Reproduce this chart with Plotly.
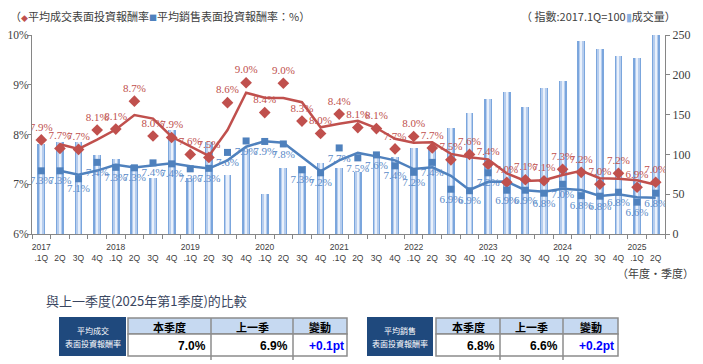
import plotly.graph_objects as go
import pandas as pd

# ---------------- data ----------------
quarters = ["2017.1Q", "2017.2Q", "2017.3Q", "2017.4Q",
            "2018.1Q", "2018.2Q", "2018.3Q", "2018.4Q",
            "2019.1Q", "2019.2Q", "2019.3Q", "2019.4Q",
            "2020.1Q", "2020.2Q", "2020.3Q", "2020.4Q",
            "2021.1Q", "2021.2Q", "2021.3Q", "2021.4Q",
            "2022.1Q", "2022.2Q", "2022.3Q", "2022.4Q",
            "2023.1Q", "2023.2Q", "2023.3Q", "2023.4Q",
            "2024.1Q", "2024.2Q", "2024.3Q", "2024.4Q",
            "2025.1Q", "2025.2Q"]

tick_labels = ["2017<br>.1Q", "\u00a0<br>2Q", "\u00a0<br>3Q", "\u00a0<br>4Q",
               "2018<br>.1Q", "\u00a0<br>2Q", "\u00a0<br>3Q", "\u00a0<br>4Q",
               "2019<br>.1Q", "\u00a0<br>2Q", "\u00a0<br>3Q", "\u00a0<br>4Q",
               "2020<br>.1Q", "\u00a0<br>2Q", "\u00a0<br>3Q", "\u00a0<br>4Q",
               "2021<br>.1Q", "\u00a0<br>2Q", "\u00a0<br>3Q", "\u00a0<br>4Q",
               "2022<br>.1Q", "\u00a0<br>2Q", "\u00a0<br>3Q", "\u00a0<br>4Q",
               "2023<br>.1Q", "\u00a0<br>2Q", "\u00a0<br>3Q", "\u00a0<br>4Q",
               "2024<br>.1Q", "\u00a0<br>2Q", "\u00a0<br>3Q", "\u00a0<br>4Q",
               "2025<br>.1Q", "\u00a0<br>2Q"]

# 成交量 index (right axis)
volume = [113, 115, 115, 99, 94, 87, 70, 131, 70, 115, 74, 107,
          50, 83, 85, 89, 83, 78, 101, 97, 108, 110, 133, 152,
          170, 178, 159, 184, 192, 242, 232, 223, 221, 250]

# 平均成交表面投資報酬率 (%)
deal_yield = [7.89, 7.72, 7.70, 8.09, 8.11, 8.67, 7.97, 7.94, 7.60, 7.54,
              8.64, 9.04, 8.44, 9.03, 8.27, 8.02, 8.41, 8.14, 8.12, 7.71,
              7.96, 7.73, 7.49, 7.60, 7.40, 7.04, 7.09, 7.07, 7.30, 7.24,
              7.00, 7.22, 6.94, 7.04]

# 平均銷售表面投資報酬率 (%)
ask_yield = [7.27, 7.27, 7.11, 7.44, 7.34, 7.33, 7.43, 7.41, 7.31, 7.32,
             7.64, 7.87, 7.86, 7.81, 7.29, 7.23, 7.73, 7.53, 7.59, 7.37,
             7.24, 7.44, 6.90, 6.87, 7.23, 6.88, 6.88, 6.82, 7.00, 6.77,
             6.76, 6.84, 6.64, 6.82]

table_headers = ["本季度", "上一季", "變動"]
table_names = [("平均成交", "表面投資報酬率"), ("平均銷售", "表面投資報酬率")]

# ---------------- derived (trendline = 2-period moving average) ----------------
deal_ma = pd.Series(deal_yield).rolling(2).mean().tolist()
ask_ma = pd.Series(ask_yield).rolling(2).mean().tolist()

RED = "#c0504d"
BLUE = "#4f81bd"
OFF = 8                      # page body offset of the figure
W, H = 703 - OFF, 364 - OFF
PL, PR, PT, PB = 32, 665, 35, 234   # plot area in page pixels
L, T = PL - OFF, PT - OFF
R = W - L - (PR - PL)
B = H - T - (PB - PT)
PW, PH = PR - PL, PB - PT


def px(xp):
    return (xp - PL) / PW


def py(yp):
    return (PB - yp) / PH


fig = go.Figure()

for w, c in [(0.42, "#7ba6dd"), (0.27, "#b6cdee"), (0.11, "#eaf1fb")]:
    fig.add_trace(go.Bar(x=quarters, y=volume, width=w, marker=dict(color=c, line_width=0),
                         yaxis="y", hoverinfo="skip"))

fig.add_trace(go.Scatter(x=quarters, y=deal_ma, mode="lines", yaxis="y2",
                         line=dict(color=RED, width=2.5), hoverinfo="skip"))
fig.add_trace(go.Scatter(x=quarters, y=ask_ma, mode="lines", yaxis="y2",
                         line=dict(color=BLUE, width=2.5), hoverinfo="skip"))

fig.add_trace(go.Scatter(x=quarters, y=deal_yield, mode="markers+text", yaxis="y2",
                         marker=dict(symbol="diamond", size=9, color=RED),
                         text=[f"{v:.1f}%" for v in deal_yield], textposition="top center",
                         textfont=dict(family="Liberation Serif", size=11, color=RED),
                         hoverinfo="skip"))
fig.add_trace(go.Scatter(x=quarters, y=ask_yield, mode="markers+text", yaxis="y2",
                         marker=dict(symbol="square", size=7, color=BLUE),
                         text=[f"{v:.1f}%" for v in ask_yield], textposition="bottom center",
                         textfont=dict(family="Liberation Serif", size=11, color="#5b8bc8"),
                         hoverinfo="skip"))

axis_col = "#868686"
fig.update_layout(
    width=W, height=H, autosize=False,
    margin=dict(l=L, r=R, t=T, b=B, pad=0, autoexpand=False),
    paper_bgcolor="white", plot_bgcolor="white",
    barmode="overlay", bargap=0, showlegend=False, hovermode=False,
    xaxis=dict(type="category", range=[-0.5, 33.5], tickmode="array", automargin=False,
               tickvals=quarters, ticktext=tick_labels, tickson="boundaries",
               ticks="outside", ticklen=4, tickcolor=axis_col, showline=True,
               linecolor=axis_col, linewidth=1, showgrid=False, tickangle=0,
               ticklabelstandoff=5,
               tickfont=dict(family="Liberation Sans", size=8.5, color="#404040")),
    yaxis=dict(side="right", range=[0, 250], dtick=50, showline=True, linecolor=axis_col,
               automargin=False,
               ticks="outside", ticklen=4, tickcolor=axis_col, showgrid=False, zeroline=False,
               tickfont=dict(family="Liberation Serif", size=12, color="#404040")),
    yaxis2=dict(overlaying="y", side="left", range=[6, 10], dtick=1, ticksuffix="%",
                automargin=False, ticklabelstandoff=-3,
                showline=True, linecolor=axis_col, ticks="outside", ticklen=3,
                tickcolor=axis_col, showgrid=False, zeroline=False,
                tickfont=dict(family="Liberation Serif", size=11.5, color="#404040")),
)

ann = []
cjk = "Noto Sans CJK TC"
ann.append(dict(xref="paper", yref="paper", x=px(8), y=py(16), xanchor="left", yanchor="middle",
                showarrow=False, font=dict(family=cjk, size=11, color="#404040"),
                text=f"（<span style='color:{RED};font-size:7px'>◆</span>平均成交表面投資報酬率"
                     f"<span style='color:{BLUE};font-size:8px'>■</span>平均銷售表面投資報酬率：%）"))
ann.append(dict(xref="paper", yref="paper", x=px(678), y=py(16), xanchor="right", yanchor="middle",
                showarrow=False, font=dict(family=cjk, size=11, color="#404040"),
                text="（ 指數:2017.1Q=100<span style='color:#8db3e2'>▮</span>成交量）"))
ann.append(dict(xref="paper", yref="paper", x=px(696), y=py(273), xanchor="right", yanchor="middle",
                showarrow=False, font=dict(family=cjk, size=11, color="#404040"),
                text="（年度·季度）"))
ann.append(dict(xref="paper", yref="paper", x=px(44), y=py(300), xanchor="left", yanchor="middle",
                showarrow=False, font=dict(family=cjk, size=13, color="#3a4660"),
                text="與上一季度(2025年第1季度)的比較"))

shapes = []
tables = [
    dict(name=table_names[0], series=deal_yield, navy=(59, 126), cols=[128, 211, 293, 347]),
    dict(name=table_names[1], series=ask_yield, navy=(367, 433), cols=[436, 500, 563, 618]),
]
y_top, y_mid, y_bot = 318, 334, 356
grid_col = "#8c8c8c"
for tb in tables:
    nx0, nx1 = tb["navy"]
    shapes.append(dict(type="rect", xref="paper", yref="paper", x0=px(nx0), x1=px(nx1),
                       y0=py(317), y1=py(356), fillcolor="#1f497d", line_width=0, layer="above"))
    ann.append(dict(xref="paper", yref="paper", x=px((nx0 + nx1) / 2), y=py(330), showarrow=False,
                    xanchor="center", yanchor="middle", text=tb["name"][0],
                    font=dict(family=cjk, size=8, color="white")))
    ann.append(dict(xref="paper", yref="paper", x=px((nx0 + nx1) / 2), y=py(343), showarrow=False,
                    xanchor="center", yanchor="middle", text=tb["name"][1],
                    font=dict(family=cjk, size=8, color="white")))
    c = tb["cols"]
    shapes.append(dict(type="rect", xref="paper", yref="paper", x0=px(c[0]), x1=px(c[3]),
                       y0=py(y_top), y1=py(y_mid), fillcolor="#c6d9f1",
                       line=dict(color=grid_col, width=1.5), layer="above"))
    shapes.append(dict(type="rect", xref="paper", yref="paper", x0=px(c[0]), x1=px(c[3]),
                       y0=py(y_mid), y1=py(y_bot), fillcolor="white",
                       line=dict(color=grid_col, width=1.5), layer="above"))
    for xc in c[1:3]:
        shapes.append(dict(type="line", xref="paper", yref="paper", x0=px(xc), x1=px(xc),
                           y0=py(y_top), y1=py(y_bot + 4), line=dict(color=grid_col, width=1.5),
                           layer="above"))
    for i, htxt in enumerate(table_headers):
        ann.append(dict(xref="paper", yref="paper", x=px((c[i] + c[i + 1]) / 2), y=py(326.5),
                        showarrow=False, xanchor="center", yanchor="middle",
                        text=f"<b>{htxt}</b>", font=dict(family=cjk, size=11, color="black")))
    cur = round(tb["series"][-1], 1)
    prev = round(tb["series"][-2], 1)
    diff = round(cur - prev, 1)
    vals = [f"{cur:.1f}%", f"{prev:.1f}%"]
    for i, v in enumerate(vals):
        ann.append(dict(xref="paper", yref="paper", x=px(c[i + 1] - 3), y=py(345.5),
                        showarrow=False, xanchor="right", yanchor="middle",
                        text=f"<b>{v}</b>", font=dict(family="Liberation Sans", size=12, color="black")))
    ann.append(dict(xref="paper", yref="paper", x=px((c[2] + c[3]) / 2 + 6), y=py(345.5),
                    showarrow=False, xanchor="center", yanchor="middle",
                    text=f"<b>{diff:+.1f}pt</b>",
                    font=dict(family="Liberation Sans", size=12, color="#0000ff")))

fig.update_layout(annotations=ann, shapes=shapes)
fig.write_html("out.html")
